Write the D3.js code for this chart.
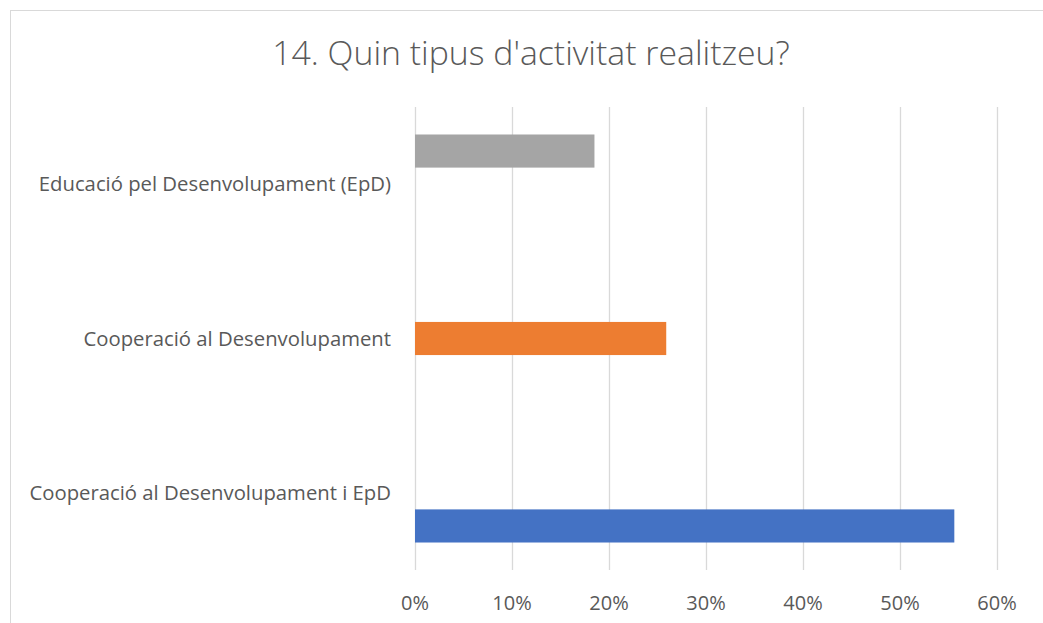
<!DOCTYPE html>
<html>
<head>
<meta charset="utf-8">
<script src="https://cdn.jsdelivr.net/npm/d3@7"></script>
<style>
  body { margin: 0; background: #fff; }
  svg text { font-family: "Open Sans", sans-serif; fill: #595959; }
</style>
</head>
<body>
<div id="chart"></div>
<script>
// categories listed top to bottom as shown
const categories = [
  "Educació pel Desenvolupament (EpD)",
  "Cooperació al Desenvolupament",
  "Cooperació al Desenvolupament i EpD"
];
// percent of answers per category
const values = [18.5, 25.9, 55.6];
// Excel clustered slot each bar sits in (0 = top)
const slots = [0, 1, 2];
const colors = ["#A5A5A5", "#ED7D31", "#4472C4"];
const xTicks = [0, 10, 20, 30, 40, 50, 60];
const title = "14. Quin tipus d'activitat realitzeu?";

const width = 1043, height = 623;
const margin = { top: 107, right: 46, bottom: 53, left: 415 };

const svg = d3.select("#chart").append("svg")
  .attr("width", width)
  .attr("height", height);

// chart frame
svg.append("rect")
  .attr("x", 10.5).attr("y", 10.5)
  .attr("width", 1200).attr("height", 800)
  .attr("fill", "none")
  .attr("stroke", "#D9D9D9");

svg.append("text")
  .attr("x", 531).attr("y", 65)
  .attr("text-anchor", "middle")
  .style("font-size", "33.8px")
  .style("font-weight", 300)
  .text(title);

const x = d3.scaleLinear()
  .domain([0, 60])
  .range([margin.left, width - margin.right]);

const y = d3.scaleBand()
  .domain(categories)
  .range([margin.top, height - margin.bottom]);

const slot = d3.scaleBand()
  .domain([0, 1, 2])
  .range([0, y.bandwidth()])
  .paddingInner(0)
  .paddingOuter(0.83);

// gridlines
svg.append("g")
  .selectAll("line")
  .data(xTicks)
  .join("line")
    .attr("x1", d => Math.round(x(d)) + 0.5)
    .attr("x2", d => Math.round(x(d)) + 0.5)
    .attr("y1", margin.top)
    .attr("y2", height - margin.bottom)
    .attr("stroke", "#D9D9D9")
    .attr("stroke-width", 1.3);

// bars
svg.append("g")
  .selectAll("rect")
  .data(categories)
  .join("rect")
    .attr("x", x(0))
    .attr("y", (d, i) => y(d) + slot(slots[i]))
    .attr("width", (d, i) => x(values[i]) - x(0))
    .attr("height", slot.bandwidth())
    .attr("fill", (d, i) => colors[i]);

// category labels
svg.append("g")
  .selectAll("text")
  .data(categories)
  .join("text")
    .attr("x", margin.left - 24)
    .attr("y", d => y(d) + y.bandwidth() / 2)
    .attr("dy", "0.35em")
    .attr("text-anchor", "end")
    .style("font-size", "20.3px")
    .text(d => d);

// x tick labels
svg.append("g")
  .selectAll("text")
  .data(xTicks)
  .join("text")
    .attr("x", d => x(d))
    .attr("y", 603)
    .attr("dy", "0.35em")
    .attr("text-anchor", "middle")
    .style("font-size", "20px")
    .text(d => d + "%");
</script>
</body>
</html>
